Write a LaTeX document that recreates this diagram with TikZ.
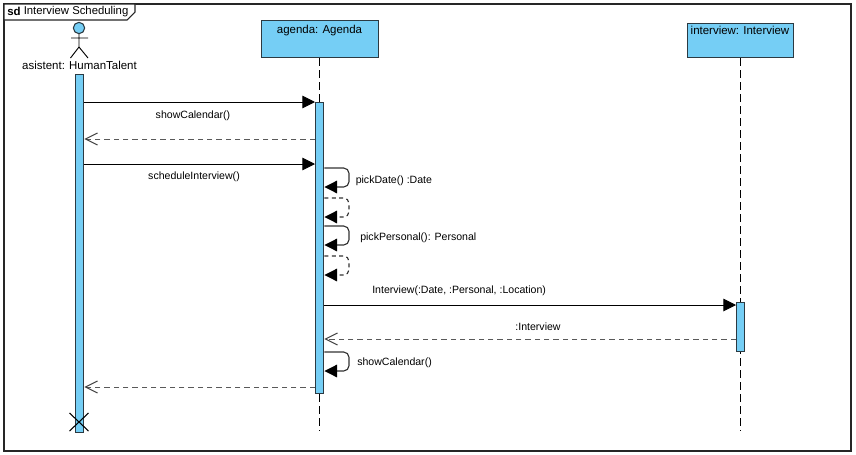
\documentclass[tikz,border=0pt]{standalone}
\usepackage{fontspec}
\setmainfont{Liberation Sans}
\usetikzlibrary{arrows.meta}
\definecolor{lifeblue}{HTML}{75CEF5}
\definecolor{edge}{HTML}{2B3A42}
\tikzset{
  x=0.75pt,y=-0.75pt,
  txt/.style={inner sep=0pt,font=\fontsize{7.92pt}{9.5pt}\selectfont,text=black},
  headtxt/.style={inner sep=0pt,font=\fontsize{8.6pt}{10.5pt}\selectfont,text=black},
  bar/.style={draw=edge,fill=lifeblue,line width=0.8pt,anchor=north west,inner sep=0pt,minimum width=6.3pt},
  headbox/.style={draw=edge,fill=lifeblue,line width=0.9pt,anchor=north west,inner sep=0pt},
  life/.style={draw=black,line width=0.7pt,dash pattern=on 6pt off 3pt},
  sync/.style={draw=black,line width=0.7pt,-{Triangle[length=9.5pt,width=9.5pt]}},
  reply/.style={draw=black!65,line width=0.75pt,dash pattern=on 4pt off 3pt,-{Straight Barb[length=9pt,width=9pt,color=black!75]}},
  selfcall/.style={draw=black!80,line width=0.85pt,rounded corners=4pt,-{Triangle[length=9.5pt,width=9.5pt,color=black]}},
  selfreply/.style={draw=black!80,line width=0.85pt,rounded corners=4pt,dash pattern=on 3pt off 2.5pt,-{Triangle[length=9.5pt,width=9.5pt,color=black]}},
}
\begin{document}
\begin{tikzpicture}
\useasboundingbox (0,0) rectangle (856,454);
\fill[white] (0,0) rectangle (856,454);
% frame
\draw[draw=black!85,line width=1.1pt] (4,4) rectangle (851,451);
\draw[draw=black!85,fill=white,line width=0.8pt] (4,4) -- (135,4) -- (135,12) -- (127,20) -- (4,20) -- cycle;
\node[txt,anchor=west,font=\fontsize{8.6pt}{10pt}\selectfont\bfseries] (sdk) at (7,11.5) {sd};
\node[txt,anchor=west,font=\fontsize{8.5pt}{10pt}\selectfont] (sdt) at (23.5,12) {Interview Scheduling};
% heads
\node[headbox,minimum width=87.75pt,minimum height=27.75pt] (agenda) at (261,20) {};
\node[headtxt] (agendat) at (319.5,30.5) {agenda: Agenda};
\node[headbox,minimum width=79.5pt,minimum height=25.5pt] (interview) at (687,23) {};
\node[headtxt] (interviewt) at (740,30.5) {interview: Interview};
% actor
\node[circle,draw=edge,fill=lifeblue,line width=0.8pt,minimum size=8.5pt,inner sep=0pt] (ahead) at (79,28) {};
\coordinate (ahip) at (79,47);
\coordinate (alarm) at (71,38);
\coordinate (ararm) at (88,38);
\coordinate (alleg) at (70.5,58);
\coordinate (arleg) at (88,58);
\draw[line width=0.7pt] (ahead.south) -- (ahip) (alarm) -- (ararm) (alleg) -- (ahip) -- (arleg);
\node[headtxt] (actorname) at (79.5,65) {asistent: HumanTalent};
% lifelines
\coordinate (agendaEnd) at (319.5,431);
\coordinate (interviewEnd) at (740.5,431);
\draw[life] (agenda.south -| agendaEnd) -- (agendaEnd);
\draw[life] (interview.south -| interviewEnd) -- (interviewEnd);
% bars
\node[bar,minimum height=268.5pt] (barA) at (75,73.5) {};
\node[bar,minimum height=218.5pt] (barB) at (315,101.5) {};
\node[bar,minimum height=36.5pt] (barC) at (736,302) {};
% destroy
\coordinate (xa) at (69.5,413);
\coordinate (xb) at (88.5,431);
\coordinate (xc) at (88.5,413);
\coordinate (xd) at (69.5,431);
\draw[line width=0.8pt,black] (xa) -- (xb) (xc) -- (xd);
% messages
\draw[sync] (barA.east |- 0,102) -- (barB.west |- 0,102);
\draw[reply] (barB.west |- 0,139) -- (barA.east |- 0,139);
\draw[sync] (barA.east |- 0,164) -- (barB.west |- 0,164);
\draw[sync] (barB.east |- 0,305) -- (barC.west |- 0,305);
\draw[reply] (barC.west |- 0,339) -- (barB.east |- 0,339);
\draw[reply] (barB.west |- 0,387) -- (barA.east |- 0,387);
% self messages
\draw[selfcall] (barB.east |- 0,168) -- (349,168) -- (349,187) -- (barB.east |- 0,187);
\draw[selfreply] (barB.east |- 0,198) -- (349,198) -- (349,217) -- (barB.east |- 0,217);
\draw[selfcall] (barB.east |- 0,226) -- (349,226) -- (349,245) -- (barB.east |- 0,245);
\draw[selfreply] (barB.east |- 0,256) -- (349,256) -- (349,275) -- (barB.east |- 0,275);
\draw[selfcall] (barB.east |- 0,352) -- (349,352) -- (349,371) -- (barB.east |- 0,371);
% labels
\node[txt] (l1) at (193,115.5) {showCalendar()};
\node[txt] (l2) at (194,176.5) {scheduleInterview()};
\node[txt,anchor=west] (l3) at (355.5,180.5) {pickDate() :Date};
\node[txt,anchor=west] (l4) at (360,237.5) {pickPersonal(): Personal};
\node[txt,anchor=west] (l5) at (372,290.5) {Interview(:Date, :Personal, :Location)};
\node[txt] (l6) at (538,327) {:Interview};
\node[txt,anchor=west] (l7) at (357,362.5) {showCalendar()};
\end{tikzpicture}
\end{document}
